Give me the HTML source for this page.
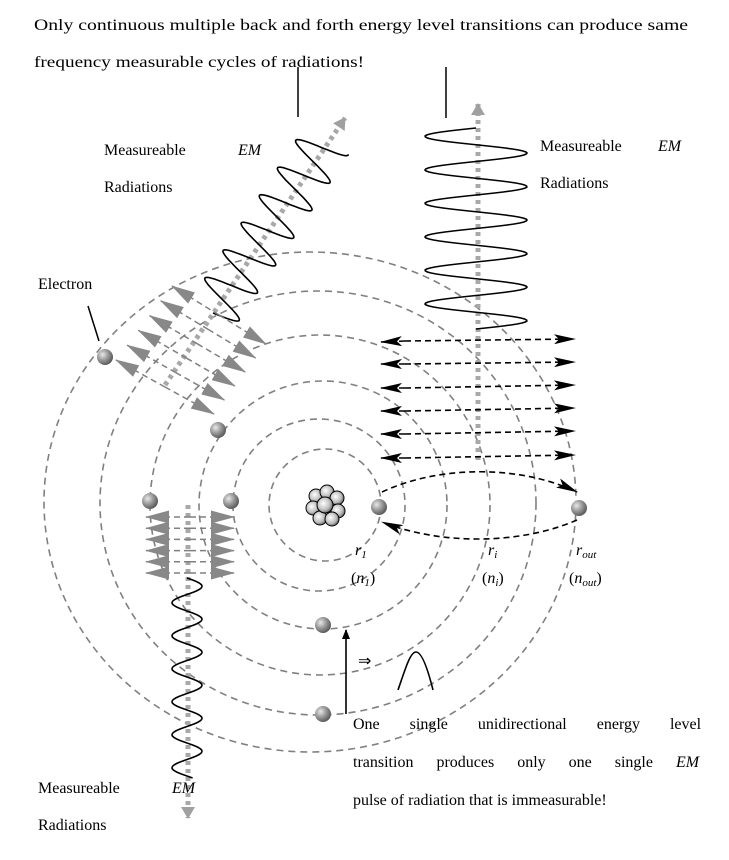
<!DOCTYPE html>
<html><head><meta charset="utf-8"><style>
html,body{margin:0;padding:0;background:#fff;}
svg{display:block;}
text{font-family:"Liberation Serif",serif;font-size:16px;fill:#000;}
</style></head><body>
<svg id="s" width="729" height="860" viewBox="0 0 729 860" xmlns="http://www.w3.org/2000/svg">
<defs>
<radialGradient id="eg" cx="0.35" cy="0.35" r="0.7">
<stop offset="0" stop-color="#e8e8e8"/><stop offset="0.5" stop-color="#999"/><stop offset="1" stop-color="#555"/>
</radialGradient>
<radialGradient id="ng" cx="0.4" cy="0.4" r="0.7">
<stop offset="0" stop-color="#fff"/><stop offset="0.6" stop-color="#bbb"/><stop offset="1" stop-color="#444"/>
</radialGradient>
<marker id="bk" markerWidth="10" markerHeight="8" refX="9" refY="4" orient="auto" markerUnits="userSpaceOnUse" viewBox="0 0 10 8"><path d="M0,0 L10,4 L0,8 z" fill="#000"/></marker>
<marker id="bk2" markerWidth="22" markerHeight="10" refX="21" refY="5" orient="auto" markerUnits="userSpaceOnUse" viewBox="0 0 22 10"><path d="M0,0 L22,5 L0,10 L5,5 z" fill="#000"/></marker>
<marker id="gy" markerWidth="24" markerHeight="13" refX="23" refY="6.5" orient="auto" markerUnits="userSpaceOnUse" viewBox="0 0 24 13"><path d="M0,0 L24,6.5 L0,13 z" fill="#888"/></marker>
<marker id="ga" markerWidth="12" markerHeight="14" refX="11" refY="7" orient="auto" markerUnits="userSpaceOnUse" viewBox="0 0 12 14"><path d="M0,0 L12,7 L0,14 z" fill="#a0a0a0"/></marker>
</defs>

<text x="34" y="30" textLength="654" lengthAdjust="spacingAndGlyphs">Only continuous multiple back and forth energy level transitions can produce same</text>
<text x="34" y="67" textLength="330" lengthAdjust="spacingAndGlyphs">frequency measurable cycles of radiations!</text>

<g fill="none" stroke="#808080" stroke-width="1.6" stroke-dasharray="7,5">
<circle cx="325" cy="505" r="56"/>
<circle cx="319" cy="505" r="86"/>
<circle cx="323" cy="505" r="124"/>
<circle cx="320" cy="505" r="170"/>
<ellipse cx="318" cy="503" rx="218" ry="212"/>
<ellipse cx="310" cy="502" rx="266" ry="250"/>
</g>

<line x1="298" y1="67" x2="298" y2="117" stroke="#000" stroke-width="1.5"/>
<line x1="446" y1="67" x2="446" y2="118" stroke="#000" stroke-width="1.5"/>

<g stroke="#a8a8a8" stroke-width="5" stroke-dasharray="4,4" fill="none">
<line x1="478" y1="460" x2="478" y2="104" marker-end="url(#ga)"/>
<line x1="165" y1="385" x2="345" y2="118" marker-end="url(#ga)"/>
<line x1="188" y1="505" x2="188" y2="818" marker-end="url(#ga)"/>
</g>

<g id="waves" fill="none" stroke="#000" stroke-width="1.6"></g>

<g stroke="#000" stroke-width="1.6" stroke-dasharray="6,4" fill="none">
<line x1="405" y1="341" x2="575" y2="339" marker-end="url(#bk2)"/><line x1="405" y1="341" x2="381" y2="342" marker-end="url(#bk2)"/>
<line x1="405" y1="364" x2="575" y2="362" marker-end="url(#bk2)"/><line x1="405" y1="364" x2="381" y2="364" marker-end="url(#bk2)"/>
<line x1="405" y1="388" x2="575" y2="385" marker-end="url(#bk2)"/><line x1="405" y1="388" x2="381" y2="388" marker-end="url(#bk2)"/>
<line x1="405" y1="411" x2="575" y2="408" marker-end="url(#bk2)"/><line x1="405" y1="411" x2="381" y2="411" marker-end="url(#bk2)"/>
<line x1="405" y1="434" x2="575" y2="431" marker-end="url(#bk2)"/><line x1="405" y1="434" x2="381" y2="434" marker-end="url(#bk2)"/>
<line x1="405" y1="458" x2="575" y2="455" marker-end="url(#bk2)"/><line x1="405" y1="458" x2="381" y2="458" marker-end="url(#bk2)"/>
<path d="M382,492 C440,465 520,465 577,492" marker-end="url(#bk2)"/>
<path d="M577,520 C520,545 440,545 382,522" marker-end="url(#bk2)"/>
</g>

<g id="gd" stroke="#808080" stroke-width="1.5" stroke-dasharray="6,4" fill="none"></g>

<g fill="url(#eg)">
<circle cx="105" cy="357" r="8"/><circle cx="218" cy="430" r="8"/>
<circle cx="150" cy="501" r="8"/><circle cx="231" cy="501" r="8"/>
<circle cx="379" cy="507" r="8"/><circle cx="579" cy="508" r="8"/>
<circle cx="323" cy="625" r="8"/><circle cx="323" cy="714" r="8"/>
</g>
<line x1="88" y1="306" x2="99" y2="341" stroke="#000" stroke-width="1.5"/>

<g fill="url(#ng)" stroke="#000" stroke-width="1">
<circle cx="316" cy="496" r="7"/><circle cx="327" cy="492" r="7"/><circle cx="337" cy="498" r="7"/>
<circle cx="313" cy="508" r="7"/><circle cx="338" cy="511" r="7"/><circle cx="320" cy="518" r="7"/>
<circle cx="332" cy="519" r="7"/><circle cx="325" cy="505" r="8"/>
</g>

<line x1="346" y1="714" x2="346" y2="630" stroke="#000" stroke-width="1.6" marker-end="url(#bk)"/>
<text x="358" y="666" font-size="18">⇒</text>
<path d="M398,690 C405,670 410,652 416,652 C422,652 428,670 433,690" fill="none" stroke="#000" stroke-width="1.6"/>

<text x="104" y="155">Measureable</text><text x="238" y="155" font-style="italic">EM</text>
<text x="104" y="192">Radiations</text>
<text x="540" y="151">Measureable</text><text x="658" y="151" font-style="italic">EM</text>
<text x="540" y="188">Radiations</text>
<text x="38" y="289">Electron</text>
<text x="38" y="793">Measureable</text><text x="172" y="793" font-style="italic">EM</text>
<text x="38" y="830">Radiations</text>

<text x="355" y="555" font-style="italic" fill="#1a2a80">r<tspan font-size="11" dy="3">1</tspan></text>
<text x="351" y="583">(<tspan font-style="italic">n</tspan><tspan font-size="11" dy="3" font-style="italic">1</tspan><tspan dy="-3">)</tspan></text>
<text x="488" y="555" font-style="italic">r<tspan font-size="11" dy="3">i</tspan></text>
<text x="482" y="583">(<tspan font-style="italic">n</tspan><tspan font-size="11" dy="3" font-style="italic">i</tspan><tspan dy="-3">)</tspan></text>
<text x="576" y="555" font-style="italic">r<tspan font-size="11" dy="3">out</tspan></text>
<text x="569" y="583">(<tspan font-style="italic">n</tspan><tspan font-size="11" dy="3" font-style="italic">out</tspan><tspan dy="-3">)</tspan></text>

<text x="353" y="729" word-spacing="26">One single unidirectional energy level</text>
<text x="353" y="767" word-spacing="19">transition produces only one single <tspan font-style="italic">EM</tspan></text>
<text x="353" y="805">pulse of radiation that is immeasurable!</text>
</svg>
<script>
var NS="http://www.w3.org/2000/svg";
function wave(x0,y0,x1,y1,amp,per,phase){
  var dx=x1-x0,dy=y1-y0,L=Math.hypot(dx,dy),ux=dx/L,uy=dy/L,nx=-uy,ny=ux,d="";
  for(var t=0;t<=L;t+=1){var a=amp*Math.sin(2*Math.PI*t/per+phase);
    var x=x0+ux*t+nx*a,y=y0+uy*t+ny*a;d+=(t?"L":"M")+x.toFixed(1)+","+y.toFixed(1);}
  var p=document.createElementNS(NS,"path");p.setAttribute("d",d);
  document.getElementById("waves").appendChild(p);}
wave(476,329,476,128,51,33.5,0);
wave(213,313,327,140,26,33,0);
wave(187,578,187,778,15,33,Math.PI);
var g=document.getElementById("gd");
function ln(a,b,c,d){var l=document.createElementNS(NS,"line");l.setAttribute("x1",a);l.setAttribute("y1",b);l.setAttribute("x2",c);l.setAttribute("y2",d);l.setAttribute("marker-end","url(#gy)");g.appendChild(l);}
for(var i=0;i<6;i++){var f=i/5;
  var sx=116+56*f,sy=360-74*f,ex=214+52*f,ey=414-70*f,mx=(sx+ex)/2,my=(sy+ey)/2;
  ln(mx,my,sx,sy);ln(mx,my,ex,ey);}
for(var i=0;i<6;i++){var y=517+11.2*i;ln(190,y,146,y);ln(190,y,234,y);}
</script>
</body></html>
